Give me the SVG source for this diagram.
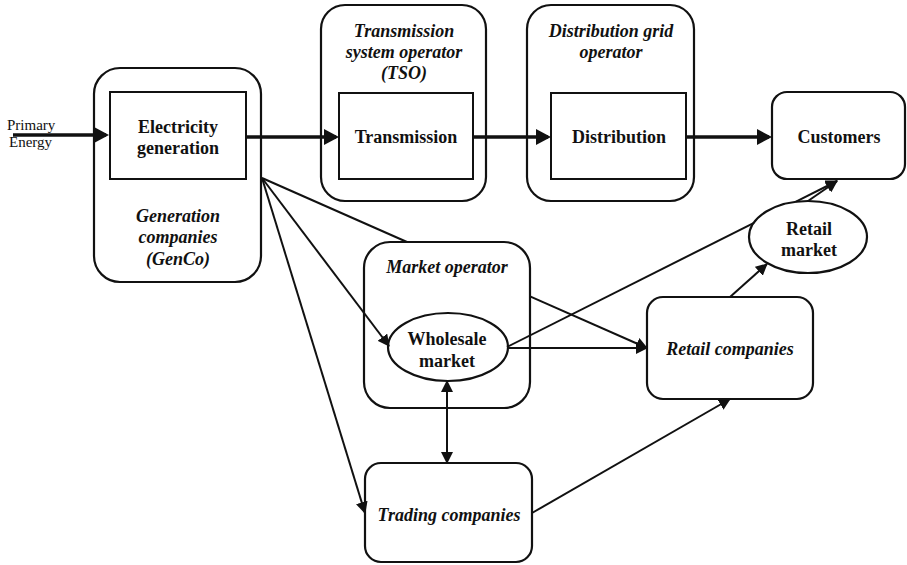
<svg xmlns="http://www.w3.org/2000/svg" width="907" height="565" viewBox="0 0 907 565">
  <style>
    .box { fill: #fff; stroke: #111; stroke-width: 2.2; }
    .inner { fill: #fff; stroke: #111; stroke-width: 2; }
    .t { font-family: "Liberation Serif", "Times New Roman", serif; font-size: 18px; font-weight: bold; fill: #111; text-anchor: middle; }
    .ti { font-style: italic; }
    .small { font-family: "Liberation Serif", "Times New Roman", serif; font-size: 15px; fill: #111; }
    .thick { stroke: #111; stroke-width: 3.5; fill: none; marker-end: url(#big); }
    .thin { stroke: #111; stroke-width: 2; fill: none; }
    .arr { marker-end: url(#sm); }
    .both { marker-start: url(#sm); marker-end: url(#sm); }
  </style>
  <defs>
    <marker id="big" viewBox="0 0 15 16" refX="12" refY="8" markerWidth="15" markerHeight="16" markerUnits="userSpaceOnUse" orient="auto">
      <path d="M0,0 L15,8 L0,16 z" fill="#111"/>
    </marker>
    <marker id="sm" viewBox="0 0 12 12" refX="11" refY="6" markerWidth="12" markerHeight="12" markerUnits="userSpaceOnUse" orient="auto-start-reverse">
      <path d="M0,0 L12,6 L0,12 z" fill="#111"/>
    </marker>
  </defs>

  <!-- Generation companies -->
  <g id="genco">
    <rect class="box" x="94" y="68" width="167" height="214" rx="26"/>
    <rect class="inner" x="110" y="92" width="136" height="87"/>
    <text class="t" x="178" y="133">Electricity</text>
    <text class="t" x="178" y="154">generation</text>
    <text class="t ti" x="178" y="222">Generation</text>
    <text class="t ti" x="178" y="243">companies</text>
    <text class="t ti" x="178" y="265">(GenCo)</text>
  </g>

  <!-- Transmission system operator -->
  <g id="tso">
    <rect class="box" x="321" y="5" width="165" height="196" rx="24"/>
    <rect class="inner" x="339" y="93" width="134" height="86"/>
    <text class="t ti" x="404" y="37">Transmission</text>
    <text class="t ti" x="404" y="58">system operator</text>
    <text class="t ti" x="404" y="79">(TSO)</text>
    <text class="t" x="406" y="143">Transmission</text>
  </g>

  <!-- Distribution grid operator -->
  <g id="dso">
    <rect class="box" x="527" y="5" width="167" height="196" rx="24"/>
    <rect class="inner" x="551" y="93" width="135" height="86"/>
    <text class="t ti" x="611" y="37">Distribution grid</text>
    <text class="t ti" x="611" y="58">operator</text>
    <text class="t" x="619" y="143">Distribution</text>
  </g>

  <!-- Customers -->
  <g id="customers">
    <rect class="box" x="772" y="92" width="133" height="87" rx="15"/>
    <text class="t" x="839" y="143">Customers</text>
  </g>

  <!-- Market operator with wholesale market -->
  <g id="market-operator">
    <rect class="box" x="364" y="242" width="166" height="166" rx="26"/>
    <text class="t ti" x="447" y="273">Market operator</text>
  </g>
  <g id="wholesale">
    <ellipse class="box" cx="448" cy="347" rx="60" ry="34"/>
    <text class="t" x="447" y="345">Wholesale</text>
    <text class="t" x="447" y="367">market</text>
  </g>

  <!-- Retail market -->
  <g id="retail-market">
    <ellipse class="box" cx="808" cy="237" rx="59" ry="36"/>
    <text class="t" x="809" y="235">Retail</text>
    <text class="t" x="809" y="256">market</text>
  </g>

  <!-- Retail companies -->
  <g id="retail-companies">
    <rect class="box" x="647" y="297" width="166" height="102" rx="16"/>
    <text class="t ti" x="730" y="355">Retail companies</text>
  </g>

  <!-- Trading companies -->
  <g id="trading">
    <rect class="box" x="365" y="463" width="167" height="99" rx="16"/>
    <text class="t ti" x="449" y="521">Trading companies</text>
  </g>

  <!-- Primary energy label -->
  <g id="primary-energy">
    <text class="small" x="7" y="130">Primary</text>
    <text class="small" x="9" y="147">Energy</text>
  </g>

  <!-- Connectors -->
  <g id="connectors">
    <!-- physical power flow -->
    <line class="thick" x1="13" y1="135" x2="106" y2="135"/>
    <line class="thick" x1="246" y1="137" x2="336" y2="137"/>
    <line class="thick" x1="473" y1="137" x2="548" y2="137"/>
    <line class="thick" x1="686" y1="137" x2="769" y2="137"/>

    <!-- GenCo to retail companies, passing behind the market operator -->
    <line class="thin" x1="262" y1="178" x2="407" y2="242"/>
    <line class="thin arr" x1="530" y1="296.3" x2="647" y2="348"/>
    <!-- GenCo to wholesale market and trading companies -->
    <line class="thin arr" x1="262" y1="178" x2="389" y2="346"/>
    <line class="thin arr" x1="262" y1="178" x2="365" y2="513"/>

    <!-- wholesale market links -->
    <line class="thin both" x1="447" y1="381" x2="447" y2="463"/>
    <line class="thin arr" x1="508" y1="348" x2="647" y2="348"/>
    <line class="thin" x1="507" y1="347" x2="754" y2="222.8"/>
    <line class="thin arr" x1="796" y1="201.6" x2="837" y2="181"/>

    <!-- retail side -->
    <line class="thin arr" x1="808" y1="201" x2="837" y2="181"/>
    <line class="thin arr" x1="730" y1="297" x2="767" y2="264"/>
    <line class="thin arr" x1="532" y1="513" x2="730" y2="399"/>
  </g>
</svg>
